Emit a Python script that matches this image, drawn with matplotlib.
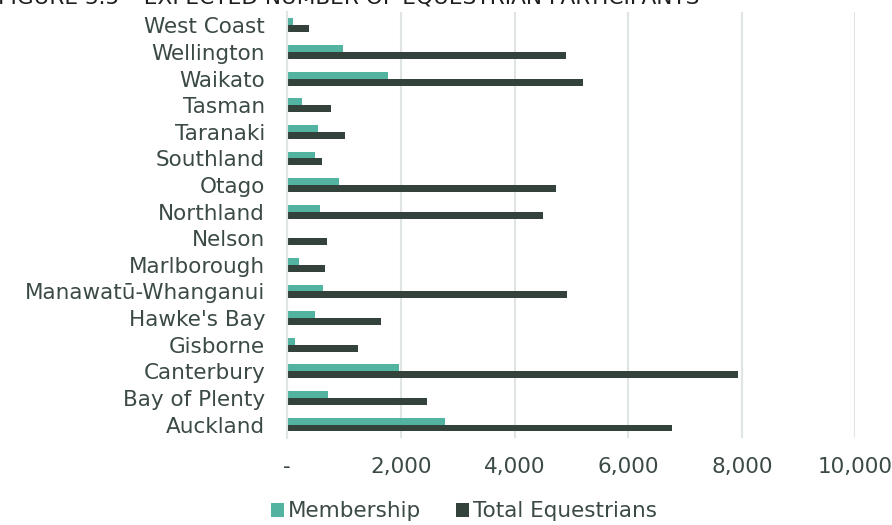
import numpy as np
import matplotlib.pyplot as plt
from matplotlib.ticker import FuncFormatter

regions = ['Auckland', 'Bay of Plenty', 'Canterbury', 'Gisborne', "Hawke's Bay",
           'Manawatū-Whanganui', 'Marlborough', 'Nelson', 'Northland', 'Otago',
           'Southland', 'Taranaki', 'Tasman', 'Waikato', 'Wellington', 'West Coast']
membership = [2774, 717, 1969, 136, 494, 629, 212, 0, 571, 917, 483, 547, 265, 1781, 982, 105]
total_equestrians = [6774, 2467, 7937, 1240, 1646, 4930, 670, 699, 4497, 4734, 607, 1012, 765, 5203, 4910, 383]

text_col = '#3b4a45'
mem_col = '#52b3a0'
tot_col = '#33433b'
grid_col = '#dfe5e2'

plt.rcParams['font.family'] = ['DejaVu Sans']

fig = plt.figure(figsize=(8.92, 5.25), dpi=100)
ax = fig.add_axes([0.322, 0.166, 0.637, 0.811])

y = np.arange(len(regions))
h = 0.26
ax.barh(y + h / 2, membership, height=h, color=mem_col, label='Membership')
ax.barh(y - h / 2, total_equestrians, height=h, color=tot_col, label='Total Equestrians')

ax.set_xlim(0, 10000)
ax.set_ylim(-0.5, len(regions) - 0.5)
ax.set_xticks(range(0, 10001, 2000))
ax.xaxis.set_major_formatter(FuncFormatter(lambda v, p: '-' if v == 0 else f'{int(v):,}'))
ax.set_yticks(y)
ax.set_yticklabels(regions)
ax.tick_params(axis='both', length=0, colors=text_col, labelsize=15.5)
ax.tick_params(axis='x', pad=14)
ax.tick_params(axis='y', pad=16)

ax.grid(axis='x', color=grid_col, linewidth=1.5)
ax.set_axisbelow(True)
for s in ['top', 'right', 'bottom']:
    ax.spines[s].set_visible(False)
ax.spines['left'].set_color(grid_col)
ax.spines['left'].set_linewidth(1.5)

fig.legend(loc='lower center', bbox_to_anchor=(0.52, -0.03), ncol=2, frameon=False,
           fontsize=15.5, labelcolor=text_col, handlelength=0.6, handleheight=0.6,
           handletextpad=0.2, columnspacing=1.6)

# title is partly cropped at the top edge, as in the source image
fig.text(-0.002, 1.004, 'FIGURE 3.5 – EXPECTED NUMBER OF EQUESTRIAN PARTICIPANTS',
         fontsize=15.6, color='#1e1e1e', va='center', ha='left')

fig.savefig('out.png', dpi=100)
